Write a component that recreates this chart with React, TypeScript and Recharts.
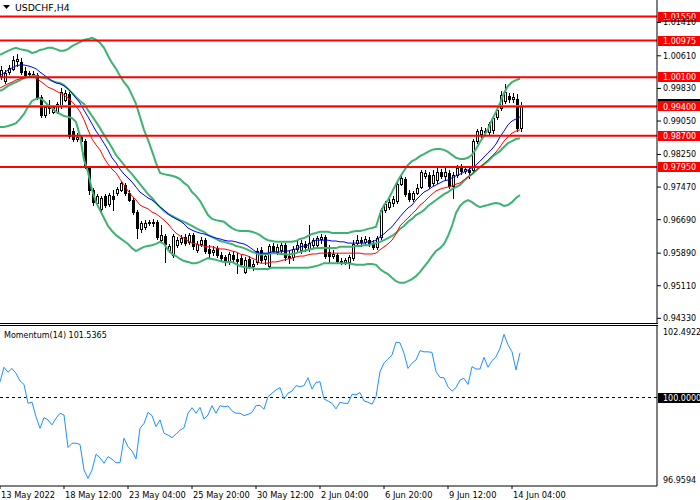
import React from 'react';
import { ComposedChart, Bar, Line, XAxis, YAxis, ReferenceLine } from 'recharts';

const opens = [
  1.0013, 1.0001, 1.0022, 1.0030, 1.0049, 1.0046, 1.0025, 1.0018, 1.0018, 1.0015,
  0.9962, 0.9919, 0.9936, 0.9927, 0.9927, 0.9941, 0.9955, 0.9970, 0.9881, 0.9862,
  0.9867, 0.9857, 0.9793, 0.9740, 0.9709, 0.9695, 0.9726, 0.9707, 0.9726, 0.9733,
  0.9740, 0.9752, 0.9733, 0.9716, 0.9687, 0.9647, 0.9652, 0.9661, 0.9664, 0.9664,
  0.9620, 0.9630, 0.9597, 0.9585, 0.9608, 0.9616, 0.9628, 0.9616, 0.9632, 0.9597,
  0.9611, 0.9620, 0.9599, 0.9592, 0.9601, 0.9585, 0.9580, 0.9568, 0.9585, 0.9575,
  0.9577, 0.9544, 0.9575, 0.9558, 0.9568, 0.9597, 0.9575, 0.9558, 0.9606, 0.9592,
  0.9597, 0.9608, 0.9582, 0.9580, 0.9599, 0.9597, 0.9611, 0.9599, 0.9608, 0.9608,
  0.9623, 0.9628, 0.9592, 0.9582, 0.9585, 0.9570, 0.9568, 0.9568, 0.9577, 0.9613,
  0.9620, 0.9616, 0.9620, 0.9613, 0.9604, 0.9628, 0.9692, 0.9699, 0.9709, 0.9714,
  0.9754, 0.9766, 0.9733, 0.9719, 0.9733, 0.9747, 0.9774, 0.9776, 0.9757, 0.9764,
  0.9783, 0.9774, 0.9781, 0.9750, 0.9776, 0.9793, 0.9786, 0.9788, 0.9788, 0.9857,
  0.9874, 0.9881, 0.9879, 0.9884, 0.9915, 0.9936, 0.9953, 0.9965, 0.9958, 0.9958,
  0.9888,
];

const highs = [
  1.0037, 1.0027, 1.0039, 1.0061, 1.0065, 1.0056, 1.0034, 1.0025, 1.0025, 1.0020,
  0.9967, 0.9943, 0.9955, 0.9941, 0.9951, 0.9984, 0.9979, 0.9974, 0.9888, 0.9876,
  0.9872, 0.9862, 0.9797, 0.9745, 0.9730, 0.9726, 0.9730, 0.9733, 0.9740, 0.9747,
  0.9762, 0.9757, 0.9740, 0.9721, 0.9692, 0.9666, 0.9668, 0.9668, 0.9671, 0.9668,
  0.9656, 0.9635, 0.9611, 0.9635, 0.9628, 0.9632, 0.9635, 0.9637, 0.9637, 0.9618,
  0.9628, 0.9625, 0.9608, 0.9606, 0.9606, 0.9592, 0.9585, 0.9592, 0.9594, 0.9589,
  0.9585, 0.9580, 0.9582, 0.9573, 0.9601, 0.9604, 0.9589, 0.9611, 0.9613, 0.9611,
  0.9613, 0.9613, 0.9597, 0.9606, 0.9618, 0.9620, 0.9618, 0.9656, 0.9625, 0.9630,
  0.9635, 0.9632, 0.9608, 0.9597, 0.9589, 0.9577, 0.9577, 0.9585, 0.9620, 0.9632,
  0.9628, 0.9630, 0.9628, 0.9620, 0.9630, 0.9697, 0.9714, 0.9719, 0.9726, 0.9759,
  0.9776, 0.9771, 0.9740, 0.9738, 0.9754, 0.9788, 0.9788, 0.9783, 0.9788, 0.9793,
  0.9790, 0.9795, 0.9788, 0.9783, 0.9800, 0.9802, 0.9797, 0.9795, 0.9862, 0.9886,
  0.9891, 0.9888, 0.9903, 0.9917, 0.9939, 0.9977, 0.9994, 0.9972, 0.9972, 0.9970,
  0.9951,
];

const lows = [
  1.0006, 0.9996, 1.0018, 1.0027, 1.0037, 1.0018, 1.0010, 1.0010, 1.0010, 0.9958,
  0.9915, 0.9915, 0.9924, 0.9924, 0.9924, 0.9936, 0.9953, 0.9864, 0.9857, 0.9857,
  0.9850, 0.9793, 0.9730, 0.9704, 0.9707, 0.9690, 0.9699, 0.9702, 0.9692, 0.9728,
  0.9738, 0.9728, 0.9714, 0.9683, 0.9625, 0.9640, 0.9647, 0.9656, 0.9654, 0.9623,
  0.9616, 0.9568, 0.9592, 0.9580, 0.9604, 0.9611, 0.9608, 0.9611, 0.9599, 0.9592,
  0.9606, 0.9589, 0.9577, 0.9585, 0.9580, 0.9570, 0.9561, 0.9563, 0.9568, 0.9541,
  0.9558, 0.9541, 0.9554, 0.9549, 0.9563, 0.9568, 0.9563, 0.9554, 0.9589, 0.9587,
  0.9592, 0.9573, 0.9565, 0.9573, 0.9594, 0.9589, 0.9594, 0.9594, 0.9604, 0.9601,
  0.9613, 0.9577, 0.9568, 0.9577, 0.9565, 0.9563, 0.9563, 0.9554, 0.9573, 0.9608,
  0.9606, 0.9611, 0.9606, 0.9599, 0.9599, 0.9623, 0.9687, 0.9695, 0.9702, 0.9709,
  0.9752, 0.9726, 0.9714, 0.9714, 0.9730, 0.9745, 0.9769, 0.9745, 0.9752, 0.9757,
  0.9769, 0.9766, 0.9745, 0.9721, 0.9771, 0.9778, 0.9781, 0.9769, 0.9783, 0.9852,
  0.9867, 0.9874, 0.9874, 0.9876, 0.9910, 0.9931, 0.9948, 0.9951, 0.9951, 0.9881,
  0.9881,
];

const closes = [
  1.0027, 1.0020, 1.0032, 1.0051, 1.0053, 1.0022, 1.0015, 1.0020, 1.0015, 0.9960,
  0.9919, 0.9939, 0.9939, 0.9939, 0.9946, 0.9974, 0.9972, 0.9869, 0.9862, 0.9867,
  0.9857, 0.9797, 0.9740, 0.9711, 0.9726, 0.9721, 0.9704, 0.9728, 0.9719, 0.9742,
  0.9757, 0.9733, 0.9716, 0.9687, 0.9649, 0.9661, 0.9661, 0.9664, 0.9661, 0.9628,
  0.9632, 0.9611, 0.9606, 0.9630, 0.9620, 0.9625, 0.9613, 0.9632, 0.9606, 0.9611,
  0.9620, 0.9594, 0.9589, 0.9597, 0.9585, 0.9577, 0.9568, 0.9587, 0.9575, 0.9570,
  0.9563, 0.9573, 0.9558, 0.9563, 0.9594, 0.9573, 0.9582, 0.9606, 0.9594, 0.9604,
  0.9608, 0.9580, 0.9577, 0.9599, 0.9608, 0.9613, 0.9604, 0.9613, 0.9620, 0.9625,
  0.9628, 0.9582, 0.9582, 0.9587, 0.9570, 0.9568, 0.9573, 0.9580, 0.9611, 0.9620,
  0.9616, 0.9623, 0.9611, 0.9604, 0.9625, 0.9692, 0.9707, 0.9711, 0.9719, 0.9754,
  0.9769, 0.9730, 0.9719, 0.9733, 0.9745, 0.9783, 0.9781, 0.9750, 0.9776, 0.9783,
  0.9774, 0.9783, 0.9750, 0.9776, 0.9793, 0.9786, 0.9790, 0.9783, 0.9857, 0.9881,
  0.9884, 0.9879, 0.9898, 0.9912, 0.9931, 0.9967, 0.9974, 0.9958, 0.9962, 0.9888,
  0.9940,
];

const bbUpper = [
  1.0063, 1.0068, 1.0073, 1.0077, 1.0080, 1.0077, 1.0075, 1.0073, 1.0068, 1.0070,
  1.0075, 1.0077, 1.0080, 1.0080, 1.0077, 1.0073, 1.0073, 1.0077, 1.0084, 1.0089,
  1.0094, 1.0099, 1.0101, 1.0104, 1.0099, 1.0092, 1.0080, 1.0061, 1.0044, 1.0030,
  1.0013, 0.9998, 0.9986, 0.9967, 0.9946, 0.9915, 0.9884, 0.9860, 0.9833, 0.9805,
  0.9781, 0.9778, 0.9776, 0.9774, 0.9771, 0.9766, 0.9757, 0.9750, 0.9735, 0.9726,
  0.9714, 0.9697, 0.9680, 0.9671, 0.9668, 0.9666, 0.9664, 0.9656, 0.9649, 0.9644,
  0.9642, 0.9642, 0.9642, 0.9640, 0.9637, 0.9632, 0.9625, 0.9620, 0.9618, 0.9616,
  0.9616, 0.9616, 0.9616, 0.9616, 0.9618, 0.9623, 0.9625, 0.9630, 0.9635, 0.9637,
  0.9640, 0.9640, 0.9640, 0.9637, 0.9637, 0.9637, 0.9637, 0.9637, 0.9640, 0.9642,
  0.9642, 0.9644, 0.9647, 0.9649, 0.9652, 0.9683, 0.9704, 0.9716, 0.9735, 0.9754,
  0.9771, 0.9786, 0.9800, 0.9809, 0.9814, 0.9821, 0.9826, 0.9831, 0.9836, 0.9838,
  0.9838, 0.9836, 0.9831, 0.9824, 0.9817, 0.9814, 0.9814, 0.9817, 0.9824, 0.9838,
  0.9855, 0.9869, 0.9886, 0.9908, 0.9927, 0.9948, 0.9972, 0.9989, 0.9998, 1.0003,
  1.0006,
];

const bbMiddle = [
  0.9977, 0.9982, 0.9989, 0.9994, 0.9998, 1.0003, 1.0008, 1.0010, 1.0013, 1.0013,
  1.0010, 1.0008, 1.0006, 1.0001, 0.9998, 0.9996, 0.9991, 0.9982, 0.9972, 0.9962,
  0.9953, 0.9946, 0.9931, 0.9917, 0.9903, 0.9888, 0.9872, 0.9857, 0.9841, 0.9824,
  0.9812, 0.9800, 0.9788, 0.9778, 0.9766, 0.9754, 0.9742, 0.9730, 0.9721, 0.9709,
  0.9699, 0.9690, 0.9683, 0.9678, 0.9673, 0.9668, 0.9664, 0.9659, 0.9654, 0.9649,
  0.9644, 0.9640, 0.9632, 0.9628, 0.9623, 0.9618, 0.9616, 0.9613, 0.9611, 0.9606,
  0.9604, 0.9601, 0.9597, 0.9592, 0.9589, 0.9585, 0.9587, 0.9587, 0.9589, 0.9589,
  0.9587, 0.9587, 0.9585, 0.9587, 0.9589, 0.9592, 0.9594, 0.9597, 0.9599, 0.9601,
  0.9601, 0.9601, 0.9601, 0.9601, 0.9601, 0.9604, 0.9604, 0.9604, 0.9604, 0.9606,
  0.9606, 0.9608, 0.9608, 0.9611, 0.9613, 0.9616, 0.9620, 0.9625, 0.9630, 0.9637,
  0.9647, 0.9654, 0.9664, 0.9671, 0.9680, 0.9685, 0.9692, 0.9702, 0.9709, 0.9716,
  0.9723, 0.9730, 0.9735, 0.9742, 0.9747, 0.9752, 0.9762, 0.9771, 0.9778, 0.9786,
  0.9795, 0.9802, 0.9809, 0.9819, 0.9826, 0.9833, 0.9843, 0.9852, 0.9857, 0.9862,
  0.9864,
];

const bbLower = [
  0.9891, 0.9891, 0.9893, 0.9896, 0.9900, 0.9910, 0.9922, 0.9939, 0.9953, 0.9958,
  0.9960, 0.9953, 0.9943, 0.9936, 0.9927, 0.9922, 0.9917, 0.9915, 0.9912, 0.9903,
  0.9869, 0.9812, 0.9783, 0.9740, 0.9711, 0.9692, 0.9673, 0.9654, 0.9642, 0.9632,
  0.9625, 0.9618, 0.9611, 0.9601, 0.9594, 0.9599, 0.9604, 0.9606, 0.9608, 0.9611,
  0.9616, 0.9611, 0.9597, 0.9587, 0.9582, 0.9575, 0.9570, 0.9568, 0.9565, 0.9565,
  0.9568, 0.9573, 0.9577, 0.9575, 0.9573, 0.9570, 0.9568, 0.9568, 0.9568, 0.9563,
  0.9558, 0.9556, 0.9554, 0.9554, 0.9551, 0.9551, 0.9551, 0.9551, 0.9554, 0.9554,
  0.9554, 0.9554, 0.9554, 0.9554, 0.9554, 0.9554, 0.9554, 0.9554, 0.9556, 0.9558,
  0.9561, 0.9565, 0.9565, 0.9565, 0.9565, 0.9565, 0.9565, 0.9565, 0.9563, 0.9561,
  0.9561, 0.9561, 0.9563, 0.9563, 0.9561, 0.9551, 0.9544, 0.9539, 0.9530, 0.9522,
  0.9518, 0.9518, 0.9522, 0.9527, 0.9534, 0.9544, 0.9556, 0.9568, 0.9582, 0.9594,
  0.9601, 0.9611, 0.9630, 0.9654, 0.9685, 0.9702, 0.9711, 0.9716, 0.9711, 0.9704,
  0.9699, 0.9702, 0.9704, 0.9707, 0.9709, 0.9707, 0.9702, 0.9704, 0.9711, 0.9721,
  0.9728,
];

const maBlue = [
  1.0013, 1.0020, 1.0027, 1.0032, 1.0037, 1.0039, 1.0039, 1.0037, 1.0034, 1.0030,
  1.0022, 1.0015, 1.0008, 1.0001, 0.9996, 0.9994, 0.9989, 0.9982, 0.9972, 0.9960,
  0.9948, 0.9931, 0.9915, 0.9898, 0.9881, 0.9867, 0.9852, 0.9836, 0.9817, 0.9805,
  0.9790, 0.9778, 0.9769, 0.9759, 0.9747, 0.9735, 0.9728, 0.9721, 0.9716, 0.9709,
  0.9699, 0.9692, 0.9683, 0.9676, 0.9671, 0.9666, 0.9659, 0.9649, 0.9644, 0.9640,
  0.9637, 0.9635, 0.9632, 0.9628, 0.9625, 0.9623, 0.9620, 0.9618, 0.9618, 0.9616,
  0.9613, 0.9611, 0.9606, 0.9599, 0.9592, 0.9589, 0.9589, 0.9589, 0.9592, 0.9592,
  0.9592, 0.9594, 0.9594, 0.9597, 0.9599, 0.9604, 0.9606, 0.9608, 0.9616, 0.9620,
  0.9620, 0.9620, 0.9620, 0.9618, 0.9618, 0.9616, 0.9616, 0.9613, 0.9613, 0.9613,
  0.9613, 0.9613, 0.9616, 0.9616, 0.9620, 0.9628, 0.9635, 0.9644, 0.9652, 0.9664,
  0.9676, 0.9687, 0.9697, 0.9704, 0.9716, 0.9726, 0.9735, 0.9740, 0.9747, 0.9752,
  0.9757, 0.9762, 0.9764, 0.9769, 0.9774, 0.9778, 0.9783, 0.9788, 0.9793, 0.9800,
  0.9809, 0.9819, 0.9829, 0.9838, 0.9850, 0.9867, 0.9881, 0.9896, 0.9905, 0.9910,
  0.9915,
];

const maRed = [
  0.9984, 0.9989, 0.9994, 0.9998, 1.0003, 1.0006, 1.0008, 1.0010, 1.0010, 1.0008,
  1.0001, 0.9994, 0.9986, 0.9982, 0.9977, 0.9972, 0.9967, 0.9960, 0.9951, 0.9941,
  0.9927, 0.9908, 0.9884, 0.9862, 0.9848, 0.9836, 0.9817, 0.9802, 0.9790, 0.9781,
  0.9766, 0.9752, 0.9738, 0.9726, 0.9716, 0.9704, 0.9699, 0.9695, 0.9687, 0.9683,
  0.9676, 0.9668, 0.9659, 0.9647, 0.9637, 0.9630, 0.9625, 0.9618, 0.9613, 0.9611,
  0.9608, 0.9606, 0.9604, 0.9604, 0.9601, 0.9599, 0.9599, 0.9597, 0.9594, 0.9592,
  0.9587, 0.9585, 0.9582, 0.9577, 0.9573, 0.9565, 0.9565, 0.9565, 0.9568, 0.9568,
  0.9570, 0.9573, 0.9575, 0.9577, 0.9580, 0.9582, 0.9582, 0.9585, 0.9587, 0.9587,
  0.9589, 0.9589, 0.9589, 0.9589, 0.9589, 0.9589, 0.9589, 0.9589, 0.9589, 0.9589,
  0.9589, 0.9587, 0.9587, 0.9587, 0.9589, 0.9597, 0.9604, 0.9611, 0.9620, 0.9635,
  0.9654, 0.9664, 0.9673, 0.9683, 0.9692, 0.9704, 0.9711, 0.9721, 0.9730, 0.9738,
  0.9742, 0.9745, 0.9747, 0.9750, 0.9754, 0.9757, 0.9764, 0.9771, 0.9778, 0.9788,
  0.9795, 0.9802, 0.9812, 0.9821, 0.9831, 0.9843, 0.9857, 0.9867, 0.9876, 0.9881,
  0.9884,
];

const momentum = [
  100.54, 101.04, 100.87, 101.00, 100.83, 100.57, 100.45, 99.80, 99.84, 99.34,
  98.94, 99.31, 99.23, 99.06, 99.29, 99.46, 99.40, 98.28, 98.43, 98.43,
  98.39, 97.51, 97.22, 97.51, 98.05, 97.93, 97.74, 97.97, 97.88, 97.76,
  97.76, 98.60, 98.31, 98.16, 97.89, 98.94, 99.11, 99.49, 99.38, 99.00,
  99.23, 98.77, 98.71, 98.62, 98.74, 98.88, 98.96, 99.46, 99.65, 99.46,
  99.66, 99.26, 99.40, 99.72, 99.46, 99.72, 99.68, 99.71, 99.54, 99.46,
  99.46, 99.38, 99.42, 99.49, 99.72, 99.73, 99.60, 100.03, 100.15, 100.26,
  100.34, 99.95, 100.15, 100.22, 100.41, 100.37, 100.41, 100.68, 100.29, 100.52,
  100.54, 99.95, 99.88, 99.80, 99.61, 99.84, 99.80, 99.80, 100.11, 100.09,
  100.17, 99.88, 99.84, 99.77, 100.03, 100.89, 101.18, 101.32, 101.46, 101.90,
  101.88, 101.52, 101.00, 101.18, 101.29, 101.61, 101.57, 101.57, 101.55, 100.89,
  100.69, 100.68, 100.37, 100.22, 100.34, 100.60, 100.66, 100.45, 101.06, 100.98,
  100.98, 101.38, 101.04, 101.26, 101.40, 101.69, 102.17, 101.81, 101.57, 100.95,
  101.5365,
];

const levels = [1.0155, 1.00975, 1.001, 0.994, 0.987, 0.9795];
const bidPrice = 0.9942;
const priceTicks = [1.0141, 1.0061, 0.9983, 0.9905, 0.9825, 0.9747, 0.9669, 0.9589, 0.9511, 0.9433];
const priceDomain = [0.94219, 1.01945];
const momTicks = [102.4922, 96.9594];
const momLevel = 100;
const timeLabels = ['13 May 2022', '18 May 12:00', '23 May 04:00', '25 May 20:00', '30 May 12:00', '2 Jun 04:00', '6 Jun 20:00', '9 Jun 12:00', '14 Jun 04:00'];
const timeLabelBars = [0, 16, 32, 48, 64, 80, 96, 112, 128];
const barDomain = [0, 164.25];

const rows = closes.map((c, i) => ({
  i,
  range: [lows[i], highs[i]],
  open: opens[i],
  high: highs[i],
  low: lows[i],
  close: c,
  up: bbUpper[i],
  mid: bbMiddle[i],
  dn: bbLower[i],
  blue: maBlue[i],
  red: maRed[i],
  mom: momentum[i],
}));

const FONT = '"DejaVu Sans", Verdana, sans-serif';
const GREEN = '#3CB371';

const Candle = (props: any) => {
  const { x, y, width, height, payload } = props;
  if (x == null || y == null || payload == null) return null;
  const top = Math.min(y, y + height);
  const bottom = Math.max(y, y + height);
  const span = payload.high - payload.low;
  const k = span > 0 ? (bottom - top) / span : 0;
  const yo = top + (payload.high - payload.open) * k;
  const yc = top + (payload.high - payload.close) * k;
  const cx = Math.round(x + width / 2);
  const bull = payload.close >= payload.open;
  const bt = Math.round(Math.min(yo, yc));
  const bb = Math.max(Math.round(Math.max(yo, yc)), bt + 1);
  return (
    <g shapeRendering="crispEdges">
      <line x1={cx + 0.5} x2={cx + 0.5} y1={Math.round(top)} y2={Math.round(bottom) + 1} stroke="#000" strokeWidth={1} />
      <rect x={cx - 0.5} y={bt + 0.5} width={2} height={bb - bt} fill={bull ? '#fff' : '#000'} stroke="#000" strokeWidth={1} />
    </g>
  );
};

const PriceTick = (props: any) => {
  const { x, y, payload } = props;
  return (
    <text x={x} y={y + 3} fontSize={8} fill="#000" fontFamily={FONT}>
      {Number(payload.value).toFixed(5)}
    </text>
  );
};

const MomTick = (props: any) => {
  const { x, y, payload } = props;
  const v = Number(payload.value);
  const dy = v > momLevel ? 10 : -3;
  return (
    <text x={x} y={y + dy} fontSize={8} fill="#000" fontFamily={FONT}>
      {v.toFixed(4)}
    </text>
  );
};

const TimeTick = (props: any) => {
  const { x, y, payload } = props;
  const idx = timeLabelBars.indexOf(Number(payload.value));
  return (
    <text x={x + 1} y={y + 7} fontSize={8.3} fill="#000" fontFamily={FONT}>
      {idx >= 0 ? timeLabels[idx] : ''}
    </text>
  );
};

const makeTag = (text: string, fill: string, withBid: boolean) => (props: any) => {
  const vb = props.viewBox || {};
  const left = (vb.x || 0) + (vb.width || 0) + 1;
  const yy = vb.y || 0;
  return (
    <g shapeRendering="crispEdges">
      {withBid ? <rect x={left} y={yy - 7} width={43} height={10} fill="#000" /> : null}
      <rect x={left} y={yy - 5} width={43} height={10} fill={fill} />
      <text x={left + 5} y={yy + 3.3} fontSize={8} fill="#fff" fontFamily={FONT}>
        {text}
      </text>
    </g>
  );
};

export default function App() {
  return (
    <div style={{ position: 'absolute', left: 0, top: 0, width: 700, height: 500, background: '#fff', fontFamily: FONT, overflow: 'hidden' }}>
      <div style={{ position: 'absolute', left: 0, top: 0 }}>
        <ComposedChart width={700} height={323} data={rows} margin={{ top: 0, right: 0, bottom: 0, left: 0 }}>
          <XAxis dataKey="i" type="number" domain={barDomain} hide />
          <YAxis
            orientation="right"
            width={43}
            domain={priceDomain}
            ticks={priceTicks}
            tick={<PriceTick />}
            tickSize={4}
            tickMargin={2}
            axisLine={{ stroke: '#000' }}
            tickLine={{ stroke: '#000' }}
            allowDataOverflow
            interval={0}
          />
          <Bar dataKey="range" barSize={3} shape={<Candle />} isAnimationActive={false} />
          <Line dataKey="up" type="linear" stroke={GREEN} strokeWidth={2} dot={false} activeDot={false} isAnimationActive={false} />
          <Line dataKey="mid" type="linear" stroke={GREEN} strokeWidth={2} dot={false} activeDot={false} isAnimationActive={false} />
          <Line dataKey="dn" type="linear" stroke={GREEN} strokeWidth={2} dot={false} activeDot={false} isAnimationActive={false} />
          <Line dataKey="red" type="linear" stroke="#FF0000" strokeWidth={1} dot={false} activeDot={false} isAnimationActive={false} />
          <Line dataKey="blue" type="linear" stroke="#0000FF" strokeWidth={1} dot={false} activeDot={false} isAnimationActive={false} />
          <ReferenceLine y={bidPrice} stroke="#C0C0C0" strokeWidth={1} />
          {levels.map((lv) => (
            <ReferenceLine
              key={lv}
              y={lv}
              stroke="#FF0000"
              strokeWidth={2}
              label={makeTag(lv.toFixed(5), '#FF0000', lv === 0.994)}
            />
          ))}
        </ComposedChart>
      </div>
      <div style={{ position: 'absolute', left: 0, top: 325 }}>
        <ComposedChart width={700} height={175} data={rows} margin={{ top: 0, right: 0, bottom: 0, left: 0 }}>
          <XAxis
            dataKey="i"
            type="number"
            domain={barDomain}
            ticks={timeLabelBars}
            tick={<TimeTick />}
            tickSize={3}
            tickMargin={2}
            height={14}
            axisLine={{ stroke: '#000' }}
            tickLine={{ stroke: '#000' }}
            interval={0}
          />
          <YAxis
            orientation="right"
            width={43}
            domain={[momTicks[1], momTicks[0]]}
            ticks={momTicks}
            tick={<MomTick />}
            tickSize={4}
            tickMargin={2}
            axisLine={{ stroke: '#000' }}
            tickLine={false}
            allowDataOverflow
            interval={0}
          />
          <ReferenceLine y={momLevel} stroke="#000" strokeWidth={1} strokeDasharray="3 3" label={makeTag('100.0000', '#000', false)} />
          <Line dataKey="mom" type="linear" stroke="#1E90FF" strokeWidth={1} dot={false} activeDot={false} isAnimationActive={false} />
        </ComposedChart>
      </div>
      <svg width={700} height={500} style={{ position: 'absolute', left: 0, top: 0, pointerEvents: 'none' }}>
        <rect x={0} y={323} width={658} height={1} fill="#000" />
        <rect x={0} y={325} width={658} height={1} fill="#000" />
        <polygon points="3,5 10,5 6.5,9" fill="#000" />
        <text x={15} y={11} fontSize={9.3} fill="#000" fontFamily={FONT}>USDCHF,H4</text>
        <text x={4} y={338} fontSize={8} fill="#000" fontFamily={FONT}>Momentum(14) 101.5365</text>
      </svg>
    </div>
  );
}
